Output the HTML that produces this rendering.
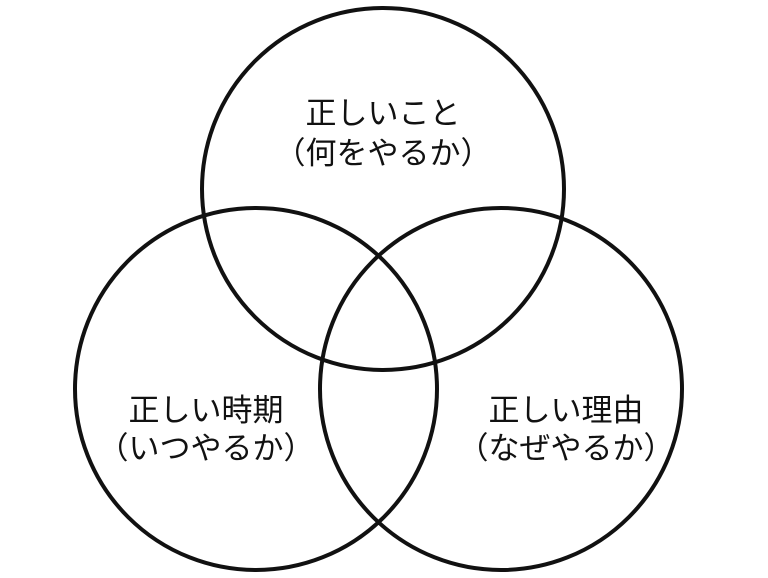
<!DOCTYPE html>
<html><head><meta charset="utf-8"><style>
html,body{margin:0;padding:0;background:#fff;}
svg{display:block;}
text{font-family:"Noto Sans CJK JP",sans-serif;font-size:31px;fill:#111;text-anchor:middle;}
</style></head><body>
<svg width="768" height="578" viewBox="0 0 768 578">
<g fill="none" stroke="#111" stroke-width="4">
<circle cx="383" cy="189" r="181"/>
<circle cx="256" cy="389" r="181"/>
<circle cx="501" cy="389" r="181"/>
</g>
<text x="383" y="124">正しいこと</text>
<text x="383" y="164">（何をやるか）</text>
<text x="206" y="421">正しい時期</text>
<text x="206" y="459">（いつやるか）</text>
<text x="566" y="421">正しい理由</text>
<text x="566" y="459">（なぜやるか）</text>
</svg>
</body></html>
